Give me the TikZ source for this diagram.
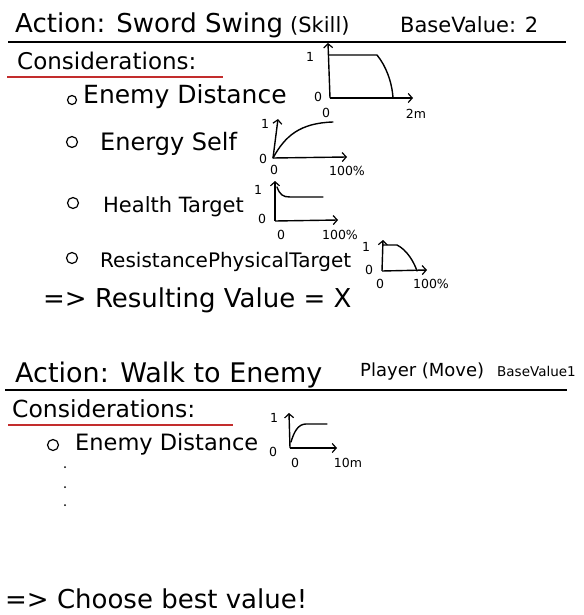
\documentclass[tikz,border=0pt]{standalone}
\usepackage{fontspec}
\setmainfont{DejaVu Sans}
\usepackage{xcolor}
\usepackage{tikz}
\usetikzlibrary{arrows.meta}
\definecolor{penred}{RGB}{195,45,45}
\newcommand{\hand}[1]{\fontsize{#1}{#1}\selectfont}

\begin{document}
\begin{tikzpicture}[
    x=1pt, y=-1pt,
    txt/.style={anchor=base west, inner sep=0pt},
    lbl/.style={inner sep=0pt, font=\hand{12.5}},
    bullet/.style={circle, draw, line width=1.2pt, inner sep=0pt, minimum size=#1},
    rule/.style={line width=1.6pt},
    redrule/.style={line width=1.6pt, penred},
    axis/.style={-{Straight Barb[length=4pt,width=9pt,line width=1.2pt]}, line width=1.4pt},
    curve/.style={line width=1.4pt, line cap=round, line join=round}
]
    \useasboundingbox (0,0) rectangle (583,615);

    % Action 1
    \node[txt, font=\hand{26}] (act1) at (15,33) {Action: Sword Swing};
    \node[txt, font=\hand{21}] (skill) at (290,33) {(Skill)};
    \node[txt, font=\hand{21}] (base1) at (400,33) {BaseValue: 2};
    \draw[rule] (8,42) -- (566,42);
    \node[txt, font=\hand{23}] (cons1) at (17,70) {Considerations:};
    \draw[redrule] (7,77) -- (223,77);

    % Considerations
    \node[bullet=9pt] (b11) at (72,100) {};
    \node[txt, font=\hand{25}] (dist1) at (83,103) {Enemy Distance};
    \node[bullet=11pt] (b12) at (72,142) {};
    \node[txt, font=\hand{24}] (energy) at (100,150) {Energy Self};
    \node[bullet=11pt] (b13) at (73,203) {};
    \node[txt, font=\hand{21}] (health) at (103,212) {Health Target};
    \node[bullet=11pt] (b14) at (72,258) {};
    \node[txt, font=\hand{20}] (resist) at (100,267) {ResistancePhysicalTarget};
    \node[txt, font=\hand{26}] (result) at (43,307) {=> Resulting Value = X};

    % Curve: enemy distance
    \coordinate (o1) at (330,98);
    \coordinate (y1) at (328,43);
    \coordinate (x1) at (413,98);
    \draw[axis] (o1) -- (y1);
    \draw[axis] (o1) -- (x1);
    \draw[curve] (329,55) -- (377,55) .. controls (386,66) and (392,82) .. (393,98);
    \node[lbl] (one1) at (310,57) {1};
    \node[lbl] (zy1) at (318,97) {0};
    \node[lbl] (zx1) at (326,113) {0};
    \node[lbl] (max1) at (416,114) {2m};

    % Curve: energy self
    \coordinate (o2) at (273,158);
    \coordinate (y2) at (278,119);
    \coordinate (x2) at (347,157);
    \draw[axis] (o2) -- (y2);
    \draw[axis] (o2) -- (x2);
    \draw[curve] (o2) .. controls (285,136) and (300,123) .. (333,122);
    \node[lbl] (one2) at (265,124) {1};
    \node[lbl] (zy2) at (263,159) {0};
    \node[lbl] (zx2) at (274,170) {0};
    \node[lbl] (max2) at (347,171) {100\%};

    % Curve: health target
    \coordinate (o3) at (275,221);
    \coordinate (y3) at (275,181);
    \coordinate (x3) at (338,220);
    \draw[axis] (o3) -- (y3);
    \draw[axis] (o3) -- (x3);
    \draw[curve] (277,187) .. controls (280,195) and (283,197) .. (290,197) -- (323,197);
    \node[lbl] (one3) at (258,190) {1};
    \node[lbl] (zy3) at (262,219) {0};
    \node[lbl] (zx3) at (281,235) {0};
    \node[lbl] (max3) at (340,235) {100\%};

    % Curve: resistance
    \coordinate (o4) at (382,271);
    \coordinate (y4) at (383,240);
    \coordinate (x4) at (427,270);
    \draw[axis] (o4) -- (y4);
    \draw[axis] (o4) -- (x4);
    \draw[curve] (383,245) -- (397,245) .. controls (407,250) and (414,262) .. (417,271);
    \node[lbl] (one4) at (366,247) {1};
    \node[lbl] (zy4) at (369,270) {0};
    \node[lbl] (zx4) at (380,284) {0};
    \node[lbl] (max4) at (431,284) {100\%};

    % Action 2
    \node[txt, font=\hand{27}] (act2) at (15,382) {Action: Walk to Enemy};
    \node[txt, font=\hand{18}] (player) at (360,376) {Player (Move)};
    \node[txt, font=\hand{13.5}] (base2) at (497,376) {BaseValue1};
    \draw[rule] (5,390) -- (567,390);
    \node[txt, font=\hand{23.5}] (cons2) at (12,417) {Considerations:};
    \draw[redrule] (8,425) -- (233,425);
    \node[bullet=11pt] (b21) at (53,445) {};
    \node[txt, font=\hand{22.5}] (dist2) at (75,450) {Enemy Distance};
    \fill (65,467) circle (1) (65,487) circle (1) (65,505) circle (1);

    % Curve: enemy distance (move)
    \coordinate (o5) at (290,448);
    \coordinate (y5) at (289,413);
    \coordinate (x5) at (337,448);
    \draw[axis] (o5) -- (y5);
    \draw[axis] (o5) -- (x5);
    \draw[curve] (291,442) .. controls (294,432) and (298,424) .. (306,424) -- (327,424);
    \node[lbl] (one5) at (274,418) {1};
    \node[lbl] (zy5) at (273,452) {0};
    \node[lbl] (zx5) at (295,463) {0};
    \node[lbl] (max5) at (348,463) {10m};

    \node[txt, font=\hand{26}] (choose) at (5,608) {=> Choose best value!};
\end{tikzpicture}
\end{document}
